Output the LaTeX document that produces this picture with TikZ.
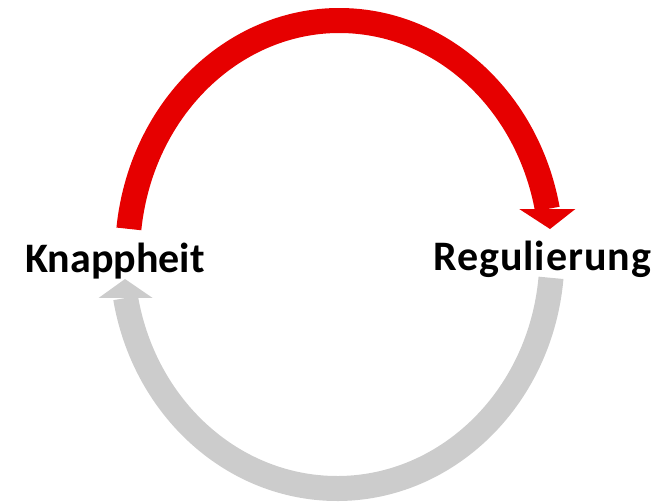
\documentclass[tikz,border=0pt]{standalone}
\usepackage{fontspec}
\setmainfont{Carlito}
\usetikzlibrary{calc}

\definecolor{cycleRed}{RGB}{230,0,0}
\definecolor{cycleGray}{RGB}{204,204,204}

\tikzset{
  label text/.style={inner sep=0pt, anchor=base west,
    font=\fontsize{42}{50}\selectfont\bfseries, text=black},
  cycle arc/.style={line width=25pt, line cap=butt},
}

\begin{document}
\begin{tikzpicture}[x=1pt,y=-1pt]
  \useasboundingbox (0,0) rectangle (655,501);

  % labels of the two stages
  \node[label text] (knapp) at (25,272) {Knappheit};
  \node[label text] (regul) at (433,270) {\addfontfeature{LetterSpace=2.3}Regulierung};

  % centres of the two half-ellipses
  \coordinate (cTop) at (339.5,255.5);
  \coordinate (cBot) at (337,255.5);

  % shaft ends and arrow tips
  \coordinate (redS)  at ($(cTop)+(186.5:212 and 235)$);
  \coordinate (redE)  at ($(cTop)+(348.6:212 and 235)$);
  \coordinate (redT)  at (550,229);
  \coordinate (grayS) at ($(cBot)+(5.5:215 and 233)$);
  \coordinate (grayE) at ($(cBot)+(169.5:215 and 233)$);
  \coordinate (grayT) at (125,279);

  % upper arc: Knappheit -> Regulierung
  \draw[cycle arc, draw=cycleRed]
    (redS) arc[start angle=186.5, end angle=348.6, x radius=212, y radius=235];
  \fill[cycleRed] ($(redE)+(-28,0)$) -- ($(redE)+(28,0)$) -- (redT) -- cycle;

  % lower arc: Regulierung -> Knappheit
  \draw[cycle arc, draw=cycleGray]
    (grayS) arc[start angle=5.5, end angle=169.5, x radius=215, y radius=233];
  \fill[cycleGray] ($(grayE)+(-27,0)$) -- ($(grayE)+(27,0)$) -- (grayT) -- cycle;
\end{tikzpicture}
\end{document}
